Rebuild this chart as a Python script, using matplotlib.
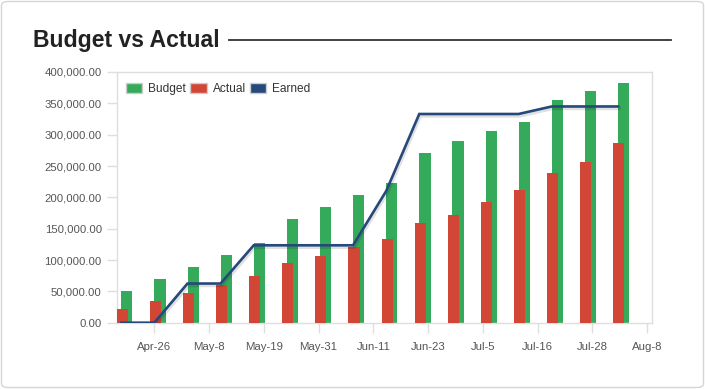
import matplotlib
matplotlib.use('Agg')
import matplotlib.pyplot as plt
import matplotlib.dates as mdates
import matplotlib.patheffects as pe
from matplotlib.patches import Patch, FancyBboxPatch
from matplotlib.lines import Line2D
import numpy as np
import pandas as pd

# ---------------- data ----------------
week_dates = ['2013-04-19', '2013-04-26', '2013-05-03', '2013-05-10', '2013-05-17',
              '2013-05-24', '2013-05-31', '2013-06-07', '2013-06-14', '2013-06-21',
              '2013-06-28', '2013-07-05', '2013-07-12', '2013-07-19', '2013-07-26',
              '2013-08-02']
budget = [50500, 70000, 89000, 108300, 127500, 165900, 184600, 204300, 223500,
          271000, 290200, 305100, 320600, 354700, 369600, 383000]
actual = [22400, 34700, 47000, 60800, 74000, 95000, 106700, 121100, 133400,
          159000, 171200, 192000, 212300, 239000, 256600, 286000]
earned = [0, 0, 62500, 62500, 123500, 123500, 123500, 123500, 210000,
          333000, 333000, 333000, 333000, 345000, 345000, 345000]
tick_labels = ['Apr-26', 'May-8', 'May-19', 'May-31', 'Jun-11', 'Jun-23',
               'Jul-5', 'Jul-16', 'Jul-28', 'Aug-8']
first_tick = '2013-04-26'
y_ticks = [0, 50000, 100000, 150000, 200000, 250000, 300000, 350000, 400000]

GREEN = '#35aa5b'
RED = '#d14634'
BLUE = '#26497c'
FONT = 'Liberation Sans'

plt.rcParams['font.family'] = [FONT, 'DejaVu Sans']

W, H = 705, 389
fig = plt.figure(figsize=(W / 100, H / 100), dpi=100)

# outer light frame
frame = FancyBboxPatch((1.5 / W, 1.5 / H), 1 - 3 / W, 1 - 3 / H,
                       boxstyle='round,pad=0,rounding_size=0.01',
                       transform=fig.transFigure, fill=False,
                       edgecolor='#d6d6d6', linewidth=1.0, zorder=0)
fig.patches.append(frame)

# title and rule
fig.text(33 / W, 1 - 47 / H, 'Budget vs Actual', fontsize=16.6, fontweight='bold',
         color='#222222', ha='left', va='baseline')
fig.add_artist(Line2D([229 / W, 671 / W], [1 - 40 / H, 1 - 40 / H],
                      transform=fig.transFigure, color='#333333', linewidth=1.3))

# axes
left, right, top, bottom = 117, 652, 72, 322.7
ax = fig.add_axes([left / W, 1 - bottom / H, (right - left) / W, (bottom - top) / H])

x = mdates.date2num(pd.to_datetime(week_dates).to_pydatetime())
bar_w = 2.35
ax.bar(x + 1.2, budget, width=bar_w, color=GREEN, zorder=2, linewidth=0)
ax.bar(x + 0.2, actual, width=bar_w, color=RED, zorder=3, linewidth=0)
ax.plot(x, earned, color=BLUE, linewidth=1.9, zorder=4, solid_joinstyle='miter',
        path_effects=[pe.SimpleLineShadow(offset=(0.6, -1.2), shadow_color='#000000',
                                          alpha=0.12, linewidth=3), pe.Normal()])

t0 = mdates.date2num(pd.to_datetime(first_tick).to_pydatetime())
step = 1e6 / 86400.0
tick_pos = [t0 + i * step for i in range(len(tick_labels))]
ax.set_xticks(tick_pos)
ax.set_xticklabels(tick_labels)
ax.set_xlim(t0 - 7.9, t0 + 105.2)

ax.set_ylim(0, 400000)
ax.set_yticks(y_ticks)
ax.set_yticklabels(['{:,.2f}'.format(v) for v in y_ticks])

for s in ['left', 'top', 'right', 'bottom']:
    ax.spines[s].set_color('#dedede')
    ax.spines[s].set_linewidth(1.0)
ax.tick_params(axis='both', colors='#dedede', labelcolor='#555555',
               labelsize=8.2, length=7.2, width=1.0)
ax.tick_params(axis='y', pad=3.8)
ax.tick_params(axis='x', pad=6.8)
ax.set_facecolor('white')

handles = [Patch(facecolor=GREEN, edgecolor='#cccccc', linewidth=1.0, label='Budget'),
           Patch(facecolor=RED, edgecolor='#cccccc', linewidth=1.0, label='Actual'),
           Patch(facecolor=BLUE, edgecolor='#cccccc', linewidth=1.0, label='Earned')]
leg = ax.legend(handles=handles, loc='upper left', ncol=3, frameon=False,
                bbox_to_anchor=(9 / (right - left), 1 - 11 / (bottom - top)),
                borderpad=0, borderaxespad=0, fontsize=8.6,
                handlelength=1.36, handleheight=0.85, handletextpad=0.5,
                columnspacing=0.35)
for t in leg.get_texts():
    t.set_color('#333333')

fig.savefig('out.png', dpi=100)
